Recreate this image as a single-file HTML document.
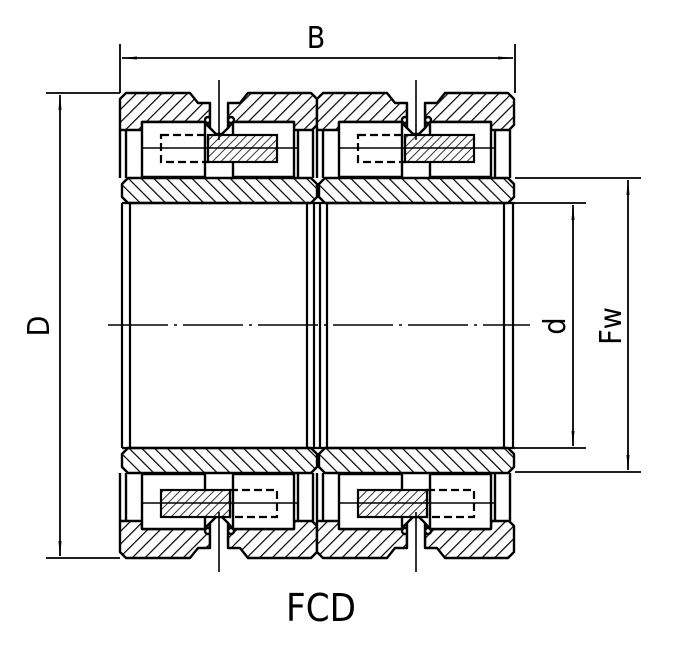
<!DOCTYPE html>
<html><head><meta charset="utf-8"><style>
html,body{margin:0;padding:0;background:#fff;}
svg{display:block;}
text{font-family:"DejaVu Sans Condensed","Liberation Sans Narrow","Liberation Sans",sans-serif;fill:#000;}
</style></head><body>
<svg width="684" height="648" viewBox="0 0 684 648" xmlns="http://www.w3.org/2000/svg">
<defs>
<pattern id="hA" patternUnits="userSpaceOnUse" width="9" height="9" patternTransform="rotate(45)">
<rect width="9" height="9" fill="#fff"/><line x1="0" y1="0" x2="0" y2="9" stroke="#000" stroke-width="2.4"/></pattern>
<pattern id="hB" patternUnits="userSpaceOnUse" width="9" height="9" patternTransform="rotate(-45)">
<rect width="9" height="9" fill="#fff"/><line x1="0" y1="0" x2="0" y2="9" stroke="#000" stroke-width="2.4"/></pattern>
<pattern id="h2" patternUnits="userSpaceOnUse" width="6" height="6" patternTransform="rotate(45)">
<rect width="6" height="6" fill="#fff"/><line x1="0" y1="0" x2="0" y2="6" stroke="#000" stroke-width="1.6"/></pattern>
<marker id="a" markerWidth="16" markerHeight="6" refX="15" refY="3" orient="auto" markerUnits="userSpaceOnUse">
<path d="M0,1.5 L16,3 L0,4.5 Z" fill="#000"/></marker>
<g id="ringsT" stroke="#000" stroke-width="2.4" stroke-linejoin="round">
<path d="M120,99 L126,93 L190,93 L198,103 L210,103 L210,128 L204,122 L142,122 L142,130 L120,130 Z" fill="url(#hA)"/>
<path d="M228,103 L240,103 L248,93 L311,93 L317,99 L317,125 L312,130 L294,130 L294,122 L233,122 L228,128 Z" fill="url(#hA)"/>
<circle cx="208" cy="120" r="3" fill="#fff"/>
<circle cx="231" cy="120" r="3" fill="#fff"/>
<path d="M210,103 L210,128 L216,134 L222,134 L228,128 L228,103" fill="#fff"/>
<path d="M122,184 L128,178 L311,178 L317,184 L317,197 L311,203 L128,203 L122,197 Z" fill="url(#hB)"/>
<path d="M142,122 L205,122 L205,177 L142,177 Z" fill="#fff"/>
<path d="M233,122 L294,122 L294,177 L233,177 Z" fill="#fff"/>
<line x1="120" y1="130" x2="120" y2="178"/>
<line x1="126" y1="130" x2="126" y2="178"/>
<line x1="298" y1="130" x2="298" y2="178"/>
<line x1="313" y1="130" x2="313" y2="178"/>
</g>
<g id="ringsB" stroke="#000" stroke-width="2.4" stroke-linejoin="round">
<path d="M120,99 L126,93 L190,93 L198,103 L210,103 L210,128 L204,122 L142,122 L142,130 L120,130 Z" fill="url(#hB)"/>
<path d="M228,103 L240,103 L248,93 L311,93 L317,99 L317,125 L312,130 L294,130 L294,122 L233,122 L228,128 Z" fill="url(#hB)"/>
<circle cx="208" cy="120" r="3" fill="#fff"/>
<circle cx="231" cy="120" r="3" fill="#fff"/>
<path d="M210,103 L210,128 L216,134 L222,134 L228,128 L228,103" fill="#fff"/>
<path d="M122,184 L128,178 L311,178 L317,184 L317,197 L311,203 L128,203 L122,197 Z" fill="url(#hA)"/>
<path d="M142,122 L205,122 L205,177 L142,177 Z" fill="#fff"/>
<path d="M233,122 L294,122 L294,177 L233,177 Z" fill="#fff"/>
<line x1="120" y1="130" x2="120" y2="178"/>
<line x1="126" y1="130" x2="126" y2="178"/>
<line x1="298" y1="130" x2="298" y2="178"/>
<line x1="313" y1="130" x2="313" y2="178"/>
</g>
</defs>

<use href="#ringsT"/>
<use href="#ringsT" transform="translate(197,0)"/>
<g transform="translate(0,651) scale(1,-1)">
<use href="#ringsB"/>
<use href="#ringsB" transform="translate(197,0)"/>
</g>

<g stroke="#000" stroke-width="2.2">
<rect x="208" y="135" width="69" height="27" fill="url(#h2)"/>
<rect x="161" y="135" width="47" height="27" fill="none" stroke-dasharray="8,4"/>
<rect x="405" y="135" width="69" height="27" fill="url(#h2)"/>
<rect x="358" y="135" width="47" height="27" fill="none" stroke-dasharray="8,4"/>
<rect x="161" y="490" width="69" height="27" fill="url(#h2)"/>
<rect x="230" y="490" width="47" height="27" fill="none" stroke-dasharray="8,4"/>
<rect x="358" y="490" width="69" height="27" fill="url(#h2)"/>
<rect x="427" y="490" width="47" height="27" fill="none" stroke-dasharray="8,4"/>
</g>

<g stroke="#000" stroke-width="1.6">
<line x1="142" y1="148" x2="298" y2="148"/><line x1="339" y1="148" x2="495" y2="148"/>
<line x1="142" y1="503" x2="298" y2="503"/><line x1="339" y1="503" x2="495" y2="503"/>
<line x1="219" y1="80" x2="219" y2="140"/><line x1="416" y1="80" x2="416" y2="140"/>
<line x1="219" y1="512" x2="219" y2="572"/><line x1="416" y1="512" x2="416" y2="572"/>
</g>

<g stroke="#000" stroke-width="2.2" fill="none">
<line x1="122" y1="203" x2="515" y2="203"/>
<line x1="122" y1="448" x2="515" y2="448"/>
<line x1="122" y1="203" x2="122" y2="448"/>
<line x1="130" y1="203" x2="130" y2="448"/>
<line x1="307" y1="203" x2="307" y2="448"/>
<line x1="314" y1="203" x2="314" y2="448"/>
<line x1="320" y1="203" x2="320" y2="448"/>
<line x1="327" y1="203" x2="327" y2="448"/>
<line x1="504" y1="203" x2="504" y2="448"/>
<line x1="513" y1="203" x2="513" y2="448"/>
</g>
<line x1="108" y1="325" x2="530" y2="325" stroke="#000" stroke-width="1.6" stroke-dasharray="60,6,3,6"/>

<g stroke="#000" stroke-width="1.8" fill="none">
<line x1="120" y1="44" x2="120" y2="93"/>
<line x1="515" y1="44" x2="515" y2="93"/>
<line x1="318" y1="58" x2="122" y2="58" marker-end="url(#a)"/>
<line x1="318" y1="58" x2="513" y2="58" marker-end="url(#a)"/>
<line x1="46" y1="93" x2="120" y2="93"/>
<line x1="46" y1="558" x2="120" y2="558"/>
<line x1="60" y1="325" x2="60" y2="95" marker-end="url(#a)"/>
<line x1="60" y1="325" x2="60" y2="556" marker-end="url(#a)"/>
<line x1="515" y1="203" x2="586" y2="203"/>
<line x1="515" y1="448" x2="586" y2="448"/>
<line x1="573" y1="325" x2="573" y2="205" marker-end="url(#a)"/>
<line x1="573" y1="325" x2="573" y2="446" marker-end="url(#a)"/>
<line x1="515" y1="178" x2="641" y2="178"/>
<line x1="515" y1="472" x2="641" y2="472"/>
<line x1="628" y1="325" x2="628" y2="180" marker-end="url(#a)"/>
<line x1="628" y1="325" x2="628" y2="470" marker-end="url(#a)"/>
</g>

<text x="316" y="48" font-size="30" text-anchor="middle">B</text>
<text transform="translate(49,326) rotate(-90)" font-size="30" text-anchor="middle">D</text>
<text transform="translate(565,326) rotate(-90)" font-size="30" text-anchor="middle">d</text>
<text transform="translate(621,326) rotate(-90)" font-size="30" text-anchor="middle">Fw</text>
<text x="321" y="621" font-size="38" text-anchor="middle">FCD</text>
</svg>
</body></html>
